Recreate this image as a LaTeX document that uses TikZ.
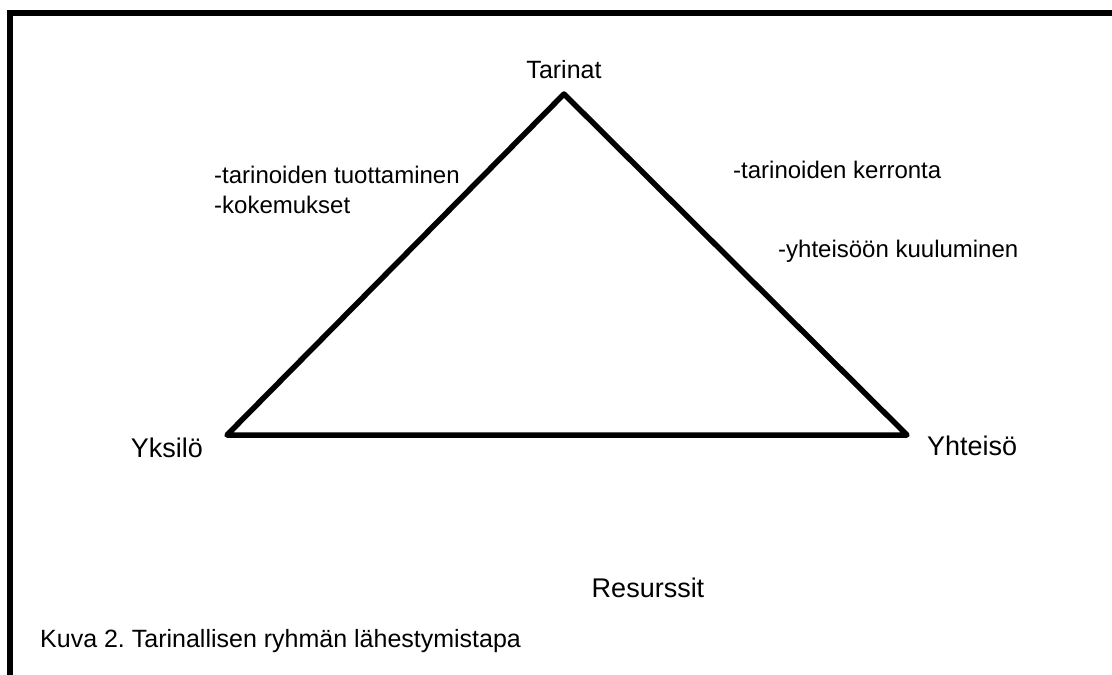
\documentclass[tikz,border=0pt]{standalone}
\usepackage{fontspec}
\setmainfont{Liberation Sans}
\usetikzlibrary{positioning}
\frenchspacing

\begin{document}
\begin{tikzpicture}[
    x=1pt, y=-1pt,
    every node/.style={inner sep=0pt, font=\fontsize{25}{30}\selectfont},
    note/.style={font=\fontsize{24}{30}\selectfont, align=left},
    corner/.style={font=\fontsize{27}{32}\selectfont},
    edge/.style={line width=5.5pt, line join=round}
]
\useasboundingbox (0,0) rectangle (1112,675);

% Frame (top and left only)
\coordinate (frameR) at (1112,13);
\coordinate (frameC) at (9.5,13);
\coordinate (frameB) at (9.5,675);
\draw[line width=6pt] (frameR) -- (frameC) -- (frameB);

% Triangle
\coordinate (apex) at (564,94);
\coordinate (cornerL) at (227,435);
\coordinate (cornerR) at (907,435);
\draw[edge] (apex) -- (cornerR) -- (cornerL) -- cycle;

% Corners
\node[above=15pt of apex] (tarinat) {Tarinat};
\node[corner, anchor=base east] (yksilo) at (203,457) {Yksilö};
\node[corner, anchor=base west] (yhteiso) at (927,455) {Yhteisö};
\node[corner, anchor=base] (resurssit) at (648,597) {Resurssit};

% Notes
\node[note, anchor=base west] (tuotto) at (214,213) {
    -tarinoiden tuottaminen\\
    -kokemukset
};
\node[note, anchor=base west] (kerronta) at (733,178) {-tarinoiden kerronta};
\node[note, anchor=base west] (kuulu) at (778,257) {-yhteisöön kuuluminen};

% Caption
\node[anchor=base west] (caption) at (40,647) {Kuva 2. Tarinallisen ryhmän lähestymistapa};

\end{tikzpicture}
\end{document}
